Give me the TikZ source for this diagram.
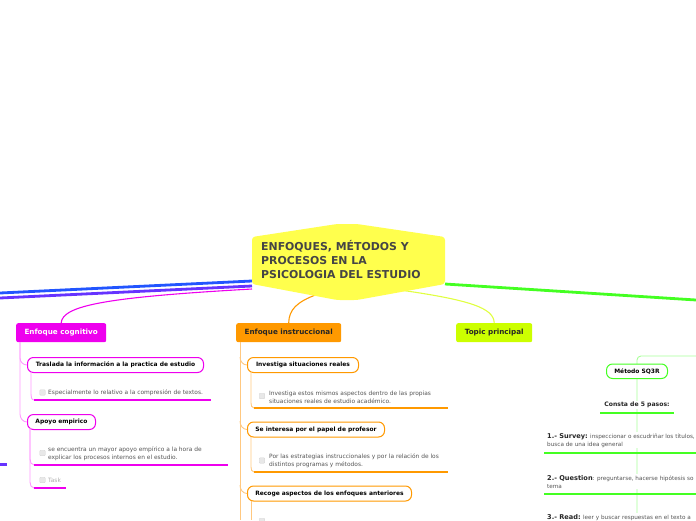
\documentclass[tikz,border=0pt]{standalone}
\usepackage{fontspec}
\setmainfont{DejaVu Sans}
\definecolor{cyel}{HTML}{FFFF4D}
\definecolor{ctitle}{HTML}{454545}
\definecolor{cmag}{HTML}{EE00EE}
\definecolor{cmagl}{HTML}{FF99FF}
\definecolor{corg}{HTML}{FF9900}
\definecolor{corgl}{HTML}{FFC880}
\definecolor{clime}{HTML}{CCFF00}
\definecolor{climel}{HTML}{E0FF40}
\definecolor{cgreen}{HTML}{44FF22}
\definecolor{cgreenl}{HTML}{A8FF98}
\definecolor{cblue}{HTML}{2255FF}
\definecolor{cpurp}{HTML}{6633FF}
\definecolor{cgrey}{HTML}{555555}
\definecolor{ctask}{HTML}{AAAAAA}
\tikzset{
  mainnode/.style={anchor=north west, rounded corners=2pt, inner sep=0pt,
    font=\fontsize{7.2}{8}\selectfont\bfseries},
  subnode/.style={anchor=north west, draw, line width=1pt, rounded corners=6pt, fill=white,
    inner sep=0pt, minimum height=15pt, text=black, font=\fontsize{5.95}{7}\selectfont\bfseries},
  chk/.style={draw=gray!35, fill=gray!18, rounded corners=0.8pt, minimum size=5.5pt, inner sep=0pt},
  note/.style={anchor=west, inner sep=0pt, align=left, text=cgrey, font=\fontsize{5.9}{8}\selectfont},
  uline/.style={line width=2.6pt},
  thinl/.style={line width=0.9pt},
}
\begin{document}
\begin{tikzpicture}[x=1pt,y=-1pt]
\useasboundingbox (0,0) rectangle (696,520);
\clip (0,0) rectangle (696,520);
% ---- coordinates
\coordinate (bluee) at (0,293);
\coordinate (purpe) at (0,298);
\coordinate (greene) at (696,300);
\coordinate (bs) at (252,281);
\coordinate (ps) at (252,286);
\coordinate (gs) at (445,284);
\coordinate (ms) at (252,289);
\coordinate (os) at (318,294);
\coordinate (ls) at (400,290);
% ---- main branch lines
\draw[cblue, line width=2.8pt] (bs) -- (bluee);
\draw[cpurp, line width=2.8pt] (ps) -- (purpe);
\draw[cgreen, line width=2.8pt] (gs) -- (greene);
% ---- main nodes
\node[mainnode, fill=cmag, text=white, minimum width=90pt, minimum height=19pt] (cog) at (16,323) {Enfoque cognitivo};
\node[mainnode, fill=corg, text=black!85, minimum width=105pt, minimum height=19pt] (ins) at (236,323) {Enfoque instruccional};
\node[mainnode, fill=clime, text=black!85, minimum width=76pt, minimum height=19pt] (top) at (456,323) {Topic principal};
\draw[cmag, line width=1.1pt] (ms) .. controls (110,297) and (62,305) .. (cog.north);
\draw[corg, line width=1.1pt] (os) .. controls (296,302) and (289,310) .. (ins.north);
\draw[climel, line width=1.1pt] (ls) .. controls (470,300) and (494,308) .. (top.north);
% ---- central node
\fill[cyel, rounded corners=3pt] (252,237) -- (337,224) -- (357,224) -- (445,237) -- (445,284) -- (357,300) -- (337,300) -- (252,284) -- cycle;
\node[anchor=north west, inner sep=0pt, align=left, text=ctitle,
  font=\fontsize{10.9}{14}\selectfont\bfseries] (central) at (261,240.5)
  {ENFOQUES, MÉTODOS Y\\PROCESOS EN LA\\PSICOLOGIA DEL ESTUDIO};
% ---- magenta branch
\node[subnode, draw=cmag, minimum width=176pt] (tras) at (27,357) {Traslada la información a la practica de estudio};
\node[subnode, draw=cmag, minimum width=68pt] (apo) at (27,414) {Apoyo empirico};
\draw[cmagl, thinl] (20,342) -- (20,358) to[out=-90,in=180] (tras.west);
\draw[cmagl, thinl] (20,342) -- (20,414) to[out=-90,in=180] (apo.west);
\coordinate (u1a) at (34,400); \coordinate (u1b) at (211,400);
\coordinate (u2a) at (34,465); \coordinate (u2b) at (228,465);
\coordinate (u3a) at (34,488); \coordinate (u3b) at (66,488);
\draw[cmagl, thinl] (31,372) -- (31,394) to[out=-90,in=180] (u1a);
\draw[cmagl, thinl] (30,428) -- (30,459) to[out=-90,in=180] (u2a);
\draw[cmagl, thinl] (30,428) -- (30,482) to[out=-90,in=180] (u3a);
\draw[cmag, uline] (u1a) -- (u1b);
\draw[cmag, uline] (u2a) -- (u2b);
\draw[cmag, uline] (u3a) -- (u3b);
\node[chk] (c1) at (42.5,392.5) {};
\node[note] (n1) at (48,392.5) {Especialmente lo relativo a la compresión de textos.};
\node[chk] (c2) at (42.5,453) {};
\node[note] (n2) at (48,453.5) {se encuentra un mayor apoyo empírico a la hora de\\explicar los procesos internos en el estudio.};
\node[chk] (c3) at (42.5,480) {};
\node[note, text=ctask] (n3) at (48,480) {Task};
% purple fragment at far left
\coordinate (pf) at (7,464.5);
\draw[cpurp, uline] (0,464.5) -- (pf);
% ---- orange branch
\node[subnode, draw=corg, minimum width=111pt] (inv) at (247,357) {Investiga situaciones reales};
\node[subnode, draw=corg, minimum width=137pt] (pap) at (247,421.5) {Se interesa por el papel de profesor};
\node[subnode, draw=corg, minimum width=164pt] (rec) at (247,485.5) {Recoge aspectos de los enfoques anteriores};
\draw[corgl, thinl] (240,342) -- (240,520);
\draw[corgl, thinl] (240,357) to[out=-90,in=180] (inv.west);
\draw[corgl, thinl] (240,421) to[out=-90,in=180] (pap.west);
\draw[corgl, thinl] (240,485) to[out=-90,in=180] (rec.west);
\coordinate (o1a) at (254,408); \coordinate (o1b) at (448,408);
\coordinate (o2a) at (254,472); \coordinate (o2b) at (448,472);
\draw[corgl, thinl] (251,372) -- (251,403) to[out=-90,in=180] (o1a);
\draw[corgl, thinl] (251,436.5) -- (251,467) to[out=-90,in=180] (o2a);
\draw[corgl, thinl] (251,500.5) -- (251,520);
\draw[corg, uline] (o1a) -- (o1b);
\draw[corg, uline] (o2a) -- (o2b);
\node[chk] (c4) at (262,396) {};
\node[note] (n4) at (269,397) {Investiga estos mismos aspectos dentro de las propias\\situaciones reales de estudio académico.};
\node[chk] (c5) at (262,460.5) {};
\node[note] (n5) at (269,460.5) {Por las estrategias instruccionales y por la relación de los\\distintos programas y métodos.};
\node[chk] (c6) at (262,521) {};
% ---- green branch
\draw[cgreenl, thinl] (696,356) -- (641,356) to[out=180,in=90] (637,360) -- (637,520);
\node[subnode, draw=cgreen, minimum width=61pt, minimum height=14.5pt] (sq) at (606,363.5) {Método SQ3R};
\node[anchor=center, inner sep=1pt, fill=white, text=black!85, font=\fontsize{6.1}{7}\selectfont\bfseries] (consta) at (637,405) {Consta de 5 pasos:};
\coordinate (g1a) at (600,413); \coordinate (g1b) at (674,413);
\draw[cgreen, uline] (g1a) -- (g1b);
\node[note, anchor=north west, fill=white, inner ysep=1pt, font=\fontsize{5.7}{8}\selectfont] (s1) at (547,432)
  {{\fontsize{6.6}{8}\selectfont\bfseries\color{black!85}1.- Survey:} inspeccionar o escudriñar los títulos,\\busca de una idea general};
\coordinate (g2a) at (544,453); \coordinate (g2b) at (696,453);
\draw[cgreen, uline] (g2a) -- (g2b);
\node[note, anchor=north west, fill=white, inner ysep=1pt, font=\fontsize{5.7}{8}\selectfont] (s2) at (547,474)
  {{\fontsize{6.6}{8}\selectfont\bfseries\color{black!85}2.- Question}: preguntarse, hacerse hipótesis so\\tema};
\coordinate (g3a) at (544,494); \coordinate (g3b) at (696,494);
\draw[cgreen, uline] (g3a) -- (g3b);
\node[note, anchor=north west, fill=white, inner ysep=1pt, font=\fontsize{5.7}{8}\selectfont] (s3) at (547,513)
  {{\fontsize{6.6}{8}\selectfont\bfseries\color{black!85}3.- Read:} leer y buscar respuestas en el texto a};
\end{tikzpicture}
\end{document}
